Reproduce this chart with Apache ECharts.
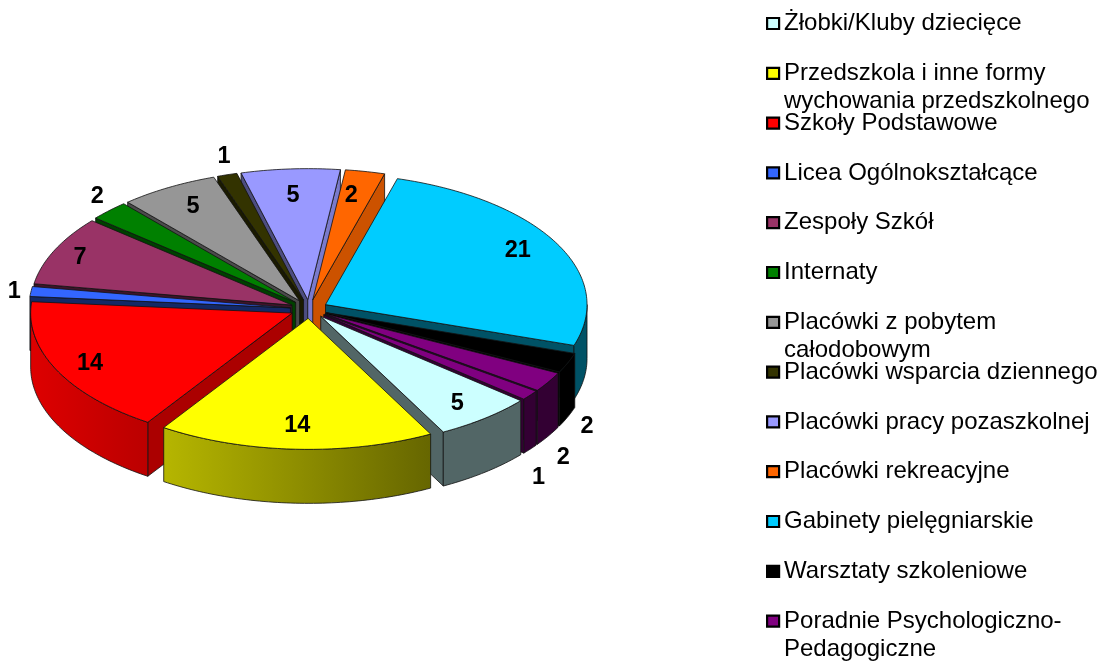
<!DOCTYPE html>
<html>
<head>
<meta charset="utf-8">
<style>html,body{margin:0;padding:0;background:#fff}#c{width:1098px;height:661px}</style>
<script src="https://cdn.jsdelivr.net/npm/echarts@6/dist/echarts.min.js"></script>
</head>
<body>
<div id="c"></div>
<script>
const categories = [
  'Żłobki/Kluby dziecięce',
  'Przedszkola i inne formy\nwychowania przedszkolnego',
  'Szkoły Podstawowe',
  'Licea Ogólnokształcące',
  'Zespoły Szkół',
  'Internaty',
  'Placówki z pobytem\ncałodobowym',
  'Placówki wsparcia dziennego',
  'Placówki pracy pozaszkolnej',
  'Placówki rekreacyjne',
  'Gabinety pielęgniarskie',
  'Warsztaty szkoleniowe',
  'Poradnie Psychologiczno-\nPedagogiczne',
  ''
];
const values = [5, 14, 14, 1, 7, 2, 5, 1, 5, 2, 21, 2, 2, 1];
const colors = ['#CCFFFF','#FFFF00','#FF0000','#3366FF','#993366','#008000','#969696','#333300','#9999FF','#FF6600','#00CCFF','#000000','#800080','#800080'];
const labelOutside = [false,false,false,true,false,true,false,true,false,false,false,true,true,true];
const labelNudge = [[-3,1],[0,-4],[-2,2],[4,1],[-10,-1],[3,-7],[5,2],[3,-8],[0,7],[-6,5],[-4,-2],[0,-16],[-3,-5],[-8,0]];

const CX = 309, CY = 309, RX = 261.5, RY = 131, DEPTH = 54, EXPLODE = 18.7, START = 130.1;
const FONT = 'Liberation Sans, Arial, sans-serif';
const total = values.reduce((a, b) => a + b, 0);
const rad = d => d * Math.PI / 180;

function shade(hex, f) {
  const n = parseInt(hex.slice(1), 16);
  const c = [(n >> 16) & 255, (n >> 8) & 255, n & 255].map(v => Math.round(v * f));
  return 'rgb(' + c.join(',') + ')';
}
function wallFactor(x) { return Math.max(0.4, Math.min(0.87, 0.87 - 0.47 * (x - 30) / 400)); }
function startCut(a) { return a < 240 ? 0.67 : (a < 300 ? 0.4 : 0.5); }
function endCut(a) { return a < 45 ? 0.8 : 0.4; }

function renderSlice(params, api) {
  const i = params.seriesIndex;
  const v = api.value(0), before = api.value(1);
  const a0 = START + before / total * 360, a1 = a0 + v / total * 360, mid = (a0 + a1) / 2;
  const ox = CX + Math.sin(rad(mid)) * EXPLODE, oy = CY - Math.cos(rad(mid)) * EXPLODE * RY / RX;
  const pt = (a, r, dz) => [ox + Math.sin(rad(a)) * RX * r, oy - Math.cos(rad(a)) * RY * r + (dz || 0)];
  const arc = (s, e, dz) => { const o = []; const n = Math.max(2, Math.ceil((e - s))); for (let k = 0; k <= n; k++) o.push(pt(s + (e - s) * k / n, 1, dz)); return o; };
  const base = colors[i];
  const stroke = { stroke: '#111', lineWidth: 0.8, lineJoin: 'round' };
  const children = [];
  const norm = a => ((a % 360) + 360) % 360;
  const ns = norm(a0), ne = norm(a1);
  const cut = (a, f) => {
    const p = pt(a, 1, 0);
    children.push({ type: 'polygon', shape: { points: [[ox, oy], p, [p[0], p[1] + DEPTH], [ox, oy + DEPTH]] }, style: Object.assign({ fill: shade(base, f) }, stroke) });
  };
  if (ns > 180 && ns < 360) cut(a0, startCut(ns));
  if (ne > 0 && ne < 180) cut(a1, endCut(ne));
  // outer wall: the part of the rim in the front half of the pie
  for (const shift of [0, 360]) {
    const s = Math.max(a0, 90 + shift), e = Math.min(a1, 270 + shift);
    if (e > s) {
      const top = arc(s, e, 0), bot = arc(s, e, DEPTH).reverse();
      const xs = top.map(p => p[0]); const x0 = Math.min(...xs), x1 = Math.max(...xs);
      const stops = [0, .25, .5, .75, 1].map(t => ({ offset: t, color: shade(base, wallFactor(x0 + (x1 - x0) * t)) }));
      children.push({ type: 'polygon', shape: { points: top.concat(bot) }, style: Object.assign({ fill: new echarts.graphic.LinearGradient(0, 0, 1, 0, stops) }, stroke) });
    }
  }
  children.push({ type: 'polygon', shape: { points: [[ox, oy]].concat(arc(a0, a1, 0)) }, style: Object.assign({ fill: base }, stroke) });
  const z = Math.round((-Math.cos(rad(mid)) + 1) * 100);
  children.forEach(c => { c.z2 = z; });
  let lp;
  if (labelOutside[i]) {
    const front = Math.cos(rad(mid)) < 0;
    lp = pt(mid, 1.08, front ? DEPTH * 1.4 : 0);
  } else {
    lp = pt(mid, 0.85, 0);
  }
  children.push({ type: 'text', z2: 1000, style: { text: String(v), x: lp[0] + labelNudge[i][0], y: lp[1] + labelNudge[i][1], font: 'bold 23.5px ' + FONT, fill: '#000', align: 'center', verticalAlign: 'middle' } });
  return { type: 'group', children };
}

const ROW0 = 23.5, ROW_STEP = 49.8;
const legendNames = categories.filter(n => n);
let cum = 0;
const series = categories.map((name, i) => {
  const s = {
    type: 'custom', name: name || 'pozostałe', coordinateSystem: 'none', renderItem: renderSlice,
    itemStyle: { color: colors[i] }, silent: true,
    data: [[values[i], cum]]
  };
  cum += values[i];
  return s;
});

const chart = echarts.init(document.getElementById('c'), null, { renderer: 'canvas' });
chart.setOption({
  animation: false,
  backgroundColor: '#fff',
  legend: legendNames.map((name, i) => ({
    data: [name], left: 766, top: ROW0 + ROW_STEP * i - 12, padding: 0, icon: 'rect', itemWidth: 12, itemHeight: 11,
    selectedMode: false,
    itemStyle: { borderColor: '#000', borderWidth: 2.2 },
    formatter: n => n.split('\n')[0],
    textStyle: { fontFamily: FONT, fontSize: 24, color: '#000', padding: 0 }
  })),
  graphic: legendNames.map((name, i) => name.includes('\n') ? {
    type: 'text', left: 784, top: ROW0 + ROW_STEP * i + 28 - 12, silent: true,
    style: { text: name.split('\n')[1], font: '24px ' + FONT, fill: '#000' }
  } : null).filter(Boolean),
  series
});
</script>
</body>
</html>
